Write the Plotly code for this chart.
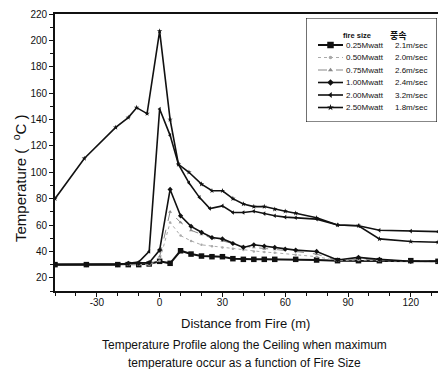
import plotly.graph_objects as go

# ---------------- data ----------------
x_025 = [-50, -35, -20, -15, -10, -5, 0, 5, 10, 15, 20, 25, 30, 35, 40, 45, 50, 55, 65, 75, 85, 95, 105, 120, 133]
y_025 = [30, 30, 30, 30, 30, 30.5, 32.5, 31, 40.5, 38, 36.5, 36, 36, 34.5, 34, 34, 34, 34, 34, 33.5, 33, 33, 33, 33, 32.5]

x_050 = [-50, -35, -20, -15, -10, -5, 0, 5, 10, 15, 20, 25, 30, 35, 40, 45, 50, 55, 65, 75, 85, 95, 105, 120, 133]
y_050 = [30, 30, 30, 30, 30, 30, 33, 62, 52, 48, 45, 44, 43, 42, 41, 40, 39.5, 39, 37.5, 36, 33, 33.5, 33, 32.5, 32]

x_075 = [-50, -35, -20, -15, -10, -5, 0, 5, 10, 15, 20, 25, 30, 35, 40, 45, 50, 55, 65, 75, 85, 95, 105, 120, 133]
y_075 = [30, 30, 30, 30, 30, 30, 36, 70, 62, 56, 53, 50, 48, 46, 44, 43, 42, 41.5, 40, 38, 33, 34, 33.5, 33, 32.5]

x_100 = [-50, -35, -20, -15, -10, -5, 0, 5, 10, 15, 20, 25, 30, 35, 40, 45, 50, 55, 60, 65, 75, 85, 95, 105, 120, 133]
y_100 = [30, 30, 30, 31, 31, 31.5, 41, 87, 67, 59, 54.5, 50.5, 49.5, 46, 43, 45, 44, 43, 41.7, 41, 40, 33.5, 35.5, 34, 32.5, 32.5]

x_200 = [-50, -35, -20, -15, -10, -5, 0, 5, 9, 14, 19, 24, 30, 35, 40, 45, 50, 55, 60, 65, 75, 85, 95, 105, 120, 133]
y_200 = [30, 30, 30, 31, 32, 40, 148, 128, 106, 92, 81, 72.5, 74.5, 69.5, 69.5, 70.5, 68.7, 67, 66, 65.5, 64.5, 60, 59.5, 56, 55.4, 55]

x_250 = [-50, -36, -21, -15, -11, -6, 0, 5, 9, 14, 20, 25, 30, 35, 40, 45, 50, 55, 60, 65, 75, 85, 95, 105, 120, 133]
y_250 = [80, 110.5, 134, 141.5, 149, 144.5, 207, 140, 106, 100, 91, 86, 86, 80, 76, 74, 74, 72, 70.5, 69, 65.5, 60, 59.5, 49.5, 47.5, 47]

fire_sizes = ["0.25Mwatt", "0.50Mwatt", "0.75Mwatt", "1.00Mwatt", "2.00Mwatt", "2.50Mwatt"]
speeds = ["2.1m/sec", "2.0m/sec", "2.6m/sec", "2.4m/sec", "3.2m/sec", "1.8m/sec"]

x_ticks = [-30, 0, 30, 60, 90, 120]
y_ticks = [20, 40, 60, 80, 100, 120, 140, 160, 180, 200, 220]

# ---------------- styles ----------------
styles = [
    dict(color="#111111", width=2.0, dash="solid", symbol="square", msize=5.5, mcolor="#111111"),
    dict(color="#aaaaaa", width=1.0, dash="dot", symbol="circle", msize=2.5, mcolor="#aaaaaa"),
    dict(color="#888888", width=1.0, dash="dash", symbol="triangle-up", msize=3.5, mcolor="#888888"),
    dict(color="#111111", width=1.6, dash="solid", symbol="diamond", msize=4, mcolor="#111111"),
    dict(color="#111111", width=1.6, dash="solid", symbol="triangle-left", msize=4, mcolor="#111111"),
    dict(color="#111111", width=1.6, dash="solid", symbol="star", msize=4, mcolor="#111111"),
]
series = [(x_025, y_025), (x_050, y_050), (x_075, y_075), (x_100, y_100), (x_200, y_200), (x_250, y_250)]

fig = go.Figure()
for (xs, ys), st, name in zip(series, styles, fire_sizes):
    fig.add_trace(go.Scatter(
        x=xs, y=ys, mode="lines+markers", name=name, showlegend=False,
        line=dict(color=st["color"], width=st["width"], dash=st["dash"]),
        marker=dict(symbol=st["symbol"], size=st["msize"], color=st["mcolor"]),
    ))

# ---------------- hand-made legend (overlay axes) ----------------
L_left, L_right, L_top, L_bottom = 306, 437, 18, 122   # pixel box
W, H = 438, 369
ml, mr, mt, mb = 55, 0, 14, 78
pw, ph = W - ml - mr, H - mt - mb
dx0 = (L_left - ml) / pw
dx1 = (L_right - ml) / pw
dy0 = (H - mb - L_bottom) / ph
dy1 = (H - mb - L_top) / ph

row_top_px = 45
row_step_px = 12.5
bw = L_right - L_left
bh = L_bottom - L_top
sx0 = (318 - L_left) / bw
sx1 = (343 - L_left) / bw
lfont = dict(family="Liberation Sans Narrow, Liberation Sans, Arial", size=8, color="#111111")
for i, (st, name, spd) in enumerate(zip(styles, fire_sizes, speeds)):
    yy = (L_bottom - (row_top_px + i * row_step_px)) / bh
    fig.add_trace(go.Scatter(
        x=[sx0, (sx0 + sx1) / 2, sx1], y=[yy, yy, yy], xaxis="x2", yaxis="y2",
        mode="lines", showlegend=False, hoverinfo="skip",
        line=dict(color=st["color"], width=st["width"], dash=st["dash"]),
    ))
    fig.add_trace(go.Scatter(
        x=[(sx0 + sx1) / 2], y=[yy], xaxis="x2", yaxis="y2",
        mode="markers", showlegend=False, hoverinfo="skip",
        marker=dict(symbol=st["symbol"], size=st["msize"] + 1, color=st["mcolor"]),
    ))
    fig.add_annotation(x=(344 - L_left) / bw, y=yy, xref="x2", yref="y2", text=name,
                       showarrow=False, xanchor="left", yanchor="middle", font=lfont)
    fig.add_annotation(x=(393 - L_left) / bw, y=yy, xref="x2", yref="y2", text=spd,
                       showarrow=False, xanchor="left", yanchor="middle", font=lfont)

ty = (L_bottom - 35) / bh
fig.add_annotation(x=(357 - L_left) / bw, y=ty, xref="x2", yref="y2", text="<b>fire size</b>",
                   showarrow=False, xanchor="center", yanchor="middle",
                   font=dict(family="Liberation Sans Narrow, Liberation Sans, Arial", size=7.5, color="#111111"))
fig.add_annotation(x=(398 - L_left) / bw, y=ty, xref="x2", yref="y2", text="<b>풍속</b>",
                   showarrow=False, xanchor="center", yanchor="middle",
                   font=dict(family="Noto Sans CJK KR", size=9, color="#111111"))

# box shadow and box
fig.add_shape(type="rect", xref="x2", yref="y2", x0=(310 - L_left) / bw, x1=1.0,
              y0=-(5 / bh), y1=0.05, fillcolor="#111111", line=dict(width=0), layer="below")
fig.add_shape(type="rect", xref="x2", yref="y2", x0=0, x1=1, y0=0, y1=1,
              fillcolor="white", line=dict(color="#111111", width=1.2), layer="below")

# ---------------- titles ----------------
def py2paper(py):
    return (H - mb - py) / ph

tfont = "Liberation Sans, Arial"
fig.add_annotation(x=(19 - ml) / pw, y=py2paper(178), xref="paper", yref="paper",
                   xanchor="center", yanchor="middle",
                   text="Temperature (  <sup>o</sup>C )", textangle=-90, showarrow=False,
                   font=dict(family=tfont, size=15, color="#111111"))
fig.add_annotation(x=(245 - ml) / pw, y=py2paper(323), xref="paper", yref="paper",
                   xanchor="center", yanchor="middle",
                   text="Distance from Fire (m)", showarrow=False,
                   font=dict(family=tfont, size=13, color="#111111"))
fig.add_annotation(x=(244 - ml) / pw, y=py2paper(345), xref="paper", yref="paper",
                   xanchor="center", yanchor="middle",
                   text="Temperature Profile along the Ceiling when maximum", showarrow=False,
                   font=dict(family=tfont, size=12, color="#111111"))
fig.add_annotation(x=(244 - ml) / pw, y=py2paper(363), xref="paper", yref="paper",
                   xanchor="center", yanchor="middle",
                   text="temperature occur as a function of Fire Size", showarrow=False,
                   font=dict(family=tfont, size=12, color="#111111"))

fig.update_layout(
    width=W, height=H,
    margin=dict(l=ml, r=mr, t=mt, b=mb, pad=0, autoexpand=False),
    paper_bgcolor="white", plot_bgcolor="white",
    showlegend=False,
    font=dict(family=tfont, color="#111111"),
    xaxis=dict(range=[-50, 133], tickmode="array", tickvals=x_ticks, ticktext=[str(v) for v in x_ticks],
               ticks="outside", ticklen=4, tickwidth=1.3, tickcolor="#111111", automargin=False,
               ticklabelstandoff=-3,
               minor=dict(tickmode="linear", tick0=0, dtick=10, ticks="outside", ticklen=3,
                          tickwidth=1.2, tickcolor="#111111", showgrid=False),
               showline=True, linecolor="#111111", linewidth=1.8, mirror=True,
               showgrid=False, zeroline=False, tickfont=dict(size=10)),
    yaxis=dict(range=[10, 220], tickmode="array", tickvals=y_ticks, ticktext=[str(v) for v in y_ticks],
               ticks="outside", ticklen=4, tickwidth=1.3, tickcolor="#111111", automargin=False,
               minor=dict(tickmode="linear", tick0=0, dtick=10, ticks="outside", ticklen=3,
                          tickwidth=1.2, tickcolor="#111111", showgrid=False),
               showline=True, linecolor="#111111", linewidth=1.8, mirror=False,
               showgrid=False, zeroline=False, tickfont=dict(size=10)),
    xaxis2=dict(domain=[dx0, dx1], range=[0, 1], visible=False, anchor="y2", fixedrange=True, automargin=False),
    yaxis2=dict(domain=[dy0, dy1], range=[0, 1], visible=False, anchor="x2", fixedrange=True, automargin=False),
)

fig.write_html(
    "out.html",
    config={"displayModeBar": False},
    post_script="document.body.style.margin='0px';document.body.style.padding='0px';"
                "document.body.style.overflow='hidden';",
)
